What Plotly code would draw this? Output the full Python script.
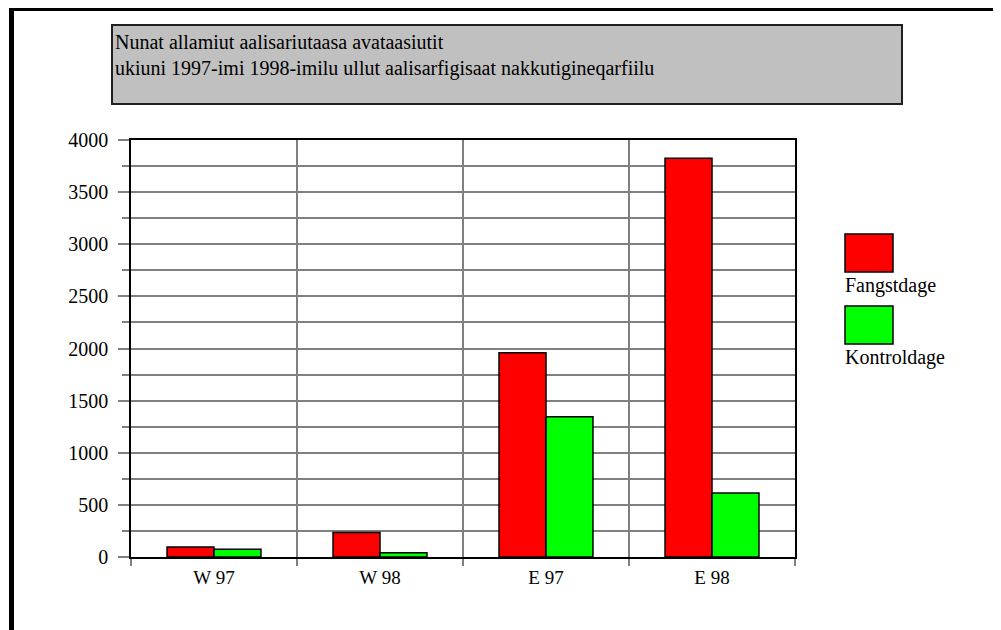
import plotly.graph_objects as go

categories = ["W 97", "W 98", "E 97", "E 98"]
fangstdage = [95, 235, 1960, 3825]
kontroldage = [75, 40, 1345, 615]
series_names = ["Fangstdage", "Kontroldage"]
series_colors = ["#ff0000", "#00ff00"]
title_lines = ["Nunat allamiut aalisariutaasa avataasiutit",
               "ukiuni 1997-imi 1998-imilu ullut aalisarfigisaat nakkutigineqarfiilu"]
y_ticks = [0, 500, 1000, 1500, 2000, 2500, 3000, 3500, 4000]

OFF = 8  # page body margin
W, H = 1001 - OFF, 630 - OFF
L, R, T, B = 131 - OFF, 795 - OFF, 140 - OFF, 557 - OFF
PW, PH = R - L, B - T


def px(x):
    return (x - OFF - L) / PW


def py(y):
    return (B - (y - OFF)) / PH


FONT = "Liberation Serif"
FS = 20

fig = go.Figure()
for name, vals, col in zip(series_names, [fangstdage, kontroldage], series_colors):
    fig.add_trace(go.Bar(x=categories, y=vals, name=name, marker=dict(color=col, line=dict(color="black", width=1.5)),
                         showlegend=False))

shapes = []
shapes.append(dict(type="rect", xref="paper", yref="paper", x0=px(9), x1=px(14), y0=py(640), y1=py(6),
                   fillcolor="black", line=dict(width=0), layer="above"))
shapes.append(dict(type="rect", xref="paper", yref="paper", x0=px(9), x1=px(1010), y0=py(11), y1=py(6),
                   fillcolor="black", line=dict(width=0), layer="above"))
shapes.append(dict(type="rect", xref="paper", yref="paper", x0=px(112), x1=px(902), y0=py(104), y1=py(25),
                   fillcolor="#c0c0c0", line=dict(color="#202020", width=2), layer="above"))
shapes.append(dict(type="rect", xref="paper", yref="paper", x0=px(845), x1=px(893), y0=py(272), y1=py(234),
                   fillcolor=series_colors[0], line=dict(color="black", width=1.5)))
shapes.append(dict(type="rect", xref="paper", yref="paper", x0=px(845), x1=px(893), y0=py(344), y1=py(306),
                   fillcolor=series_colors[1], line=dict(color="black", width=1.5)))

annotations = []
annotations.append(dict(xref="paper", yref="paper", x=px(113), y=py(42), xanchor="left", yanchor="middle",
                        text=title_lines[0], showarrow=False, font=dict(family=FONT, size=FS, color="black")))
annotations.append(dict(xref="paper", yref="paper", x=px(113), y=py(69), xanchor="left", yanchor="middle",
                        text=title_lines[1], showarrow=False, font=dict(family=FONT, size=FS, color="black")))
annotations.append(dict(xref="paper", yref="paper", x=px(843), y=py(285), xanchor="left", yanchor="middle",
                        text=series_names[0], showarrow=False, font=dict(family=FONT, size=FS, color="black")))
annotations.append(dict(xref="paper", yref="paper", x=px(843), y=py(357), xanchor="left", yanchor="middle",
                        text=series_names[1], showarrow=False, font=dict(family=FONT, size=FS, color="black")))

fig.update_layout(
    width=W, height=H,
    margin=dict(l=L, r=W - R, t=T, b=H - B, pad=0),
    paper_bgcolor="white", plot_bgcolor="white",
    barmode="group", bargap=0.434, bargroupgap=0,
    shapes=shapes, annotations=annotations,
    font=dict(family=FONT, size=FS, color="black"),
)
fig.update_xaxes(type="category", tickson="boundaries", showgrid=True, gridcolor="#808080", gridwidth=1.5,
                 ticks="outside", ticklen=7, tickcolor="#808080", tickwidth=1.5,
                 showline=True, linecolor="black", linewidth=1.5, mirror=True,
                 tickfont=dict(family=FONT, size=19, color="black"), zeroline=False, ticklabelstandoff=2)
fig.update_yaxes(range=[0, 4000], tickvals=y_ticks, ticktext=[str(v) for v in y_ticks],
                 showgrid=True, gridcolor="#808080", gridwidth=1.5,
                 ticks="outside", ticklen=11, tickcolor="#808080", tickwidth=1.5,
                 minor=dict(dtick=250, ticks="outside", ticklen=7, tickcolor="#808080", tickwidth=1.5,
                            showgrid=True, gridcolor="#808080", gridwidth=1.5),
                 showline=True, linecolor="black", linewidth=1.5, mirror=True, zeroline=False,
                 tickfont=dict(family=FONT, size=FS, color="black"), ticklabelstandoff=6)

fig.write_html("out.html")
